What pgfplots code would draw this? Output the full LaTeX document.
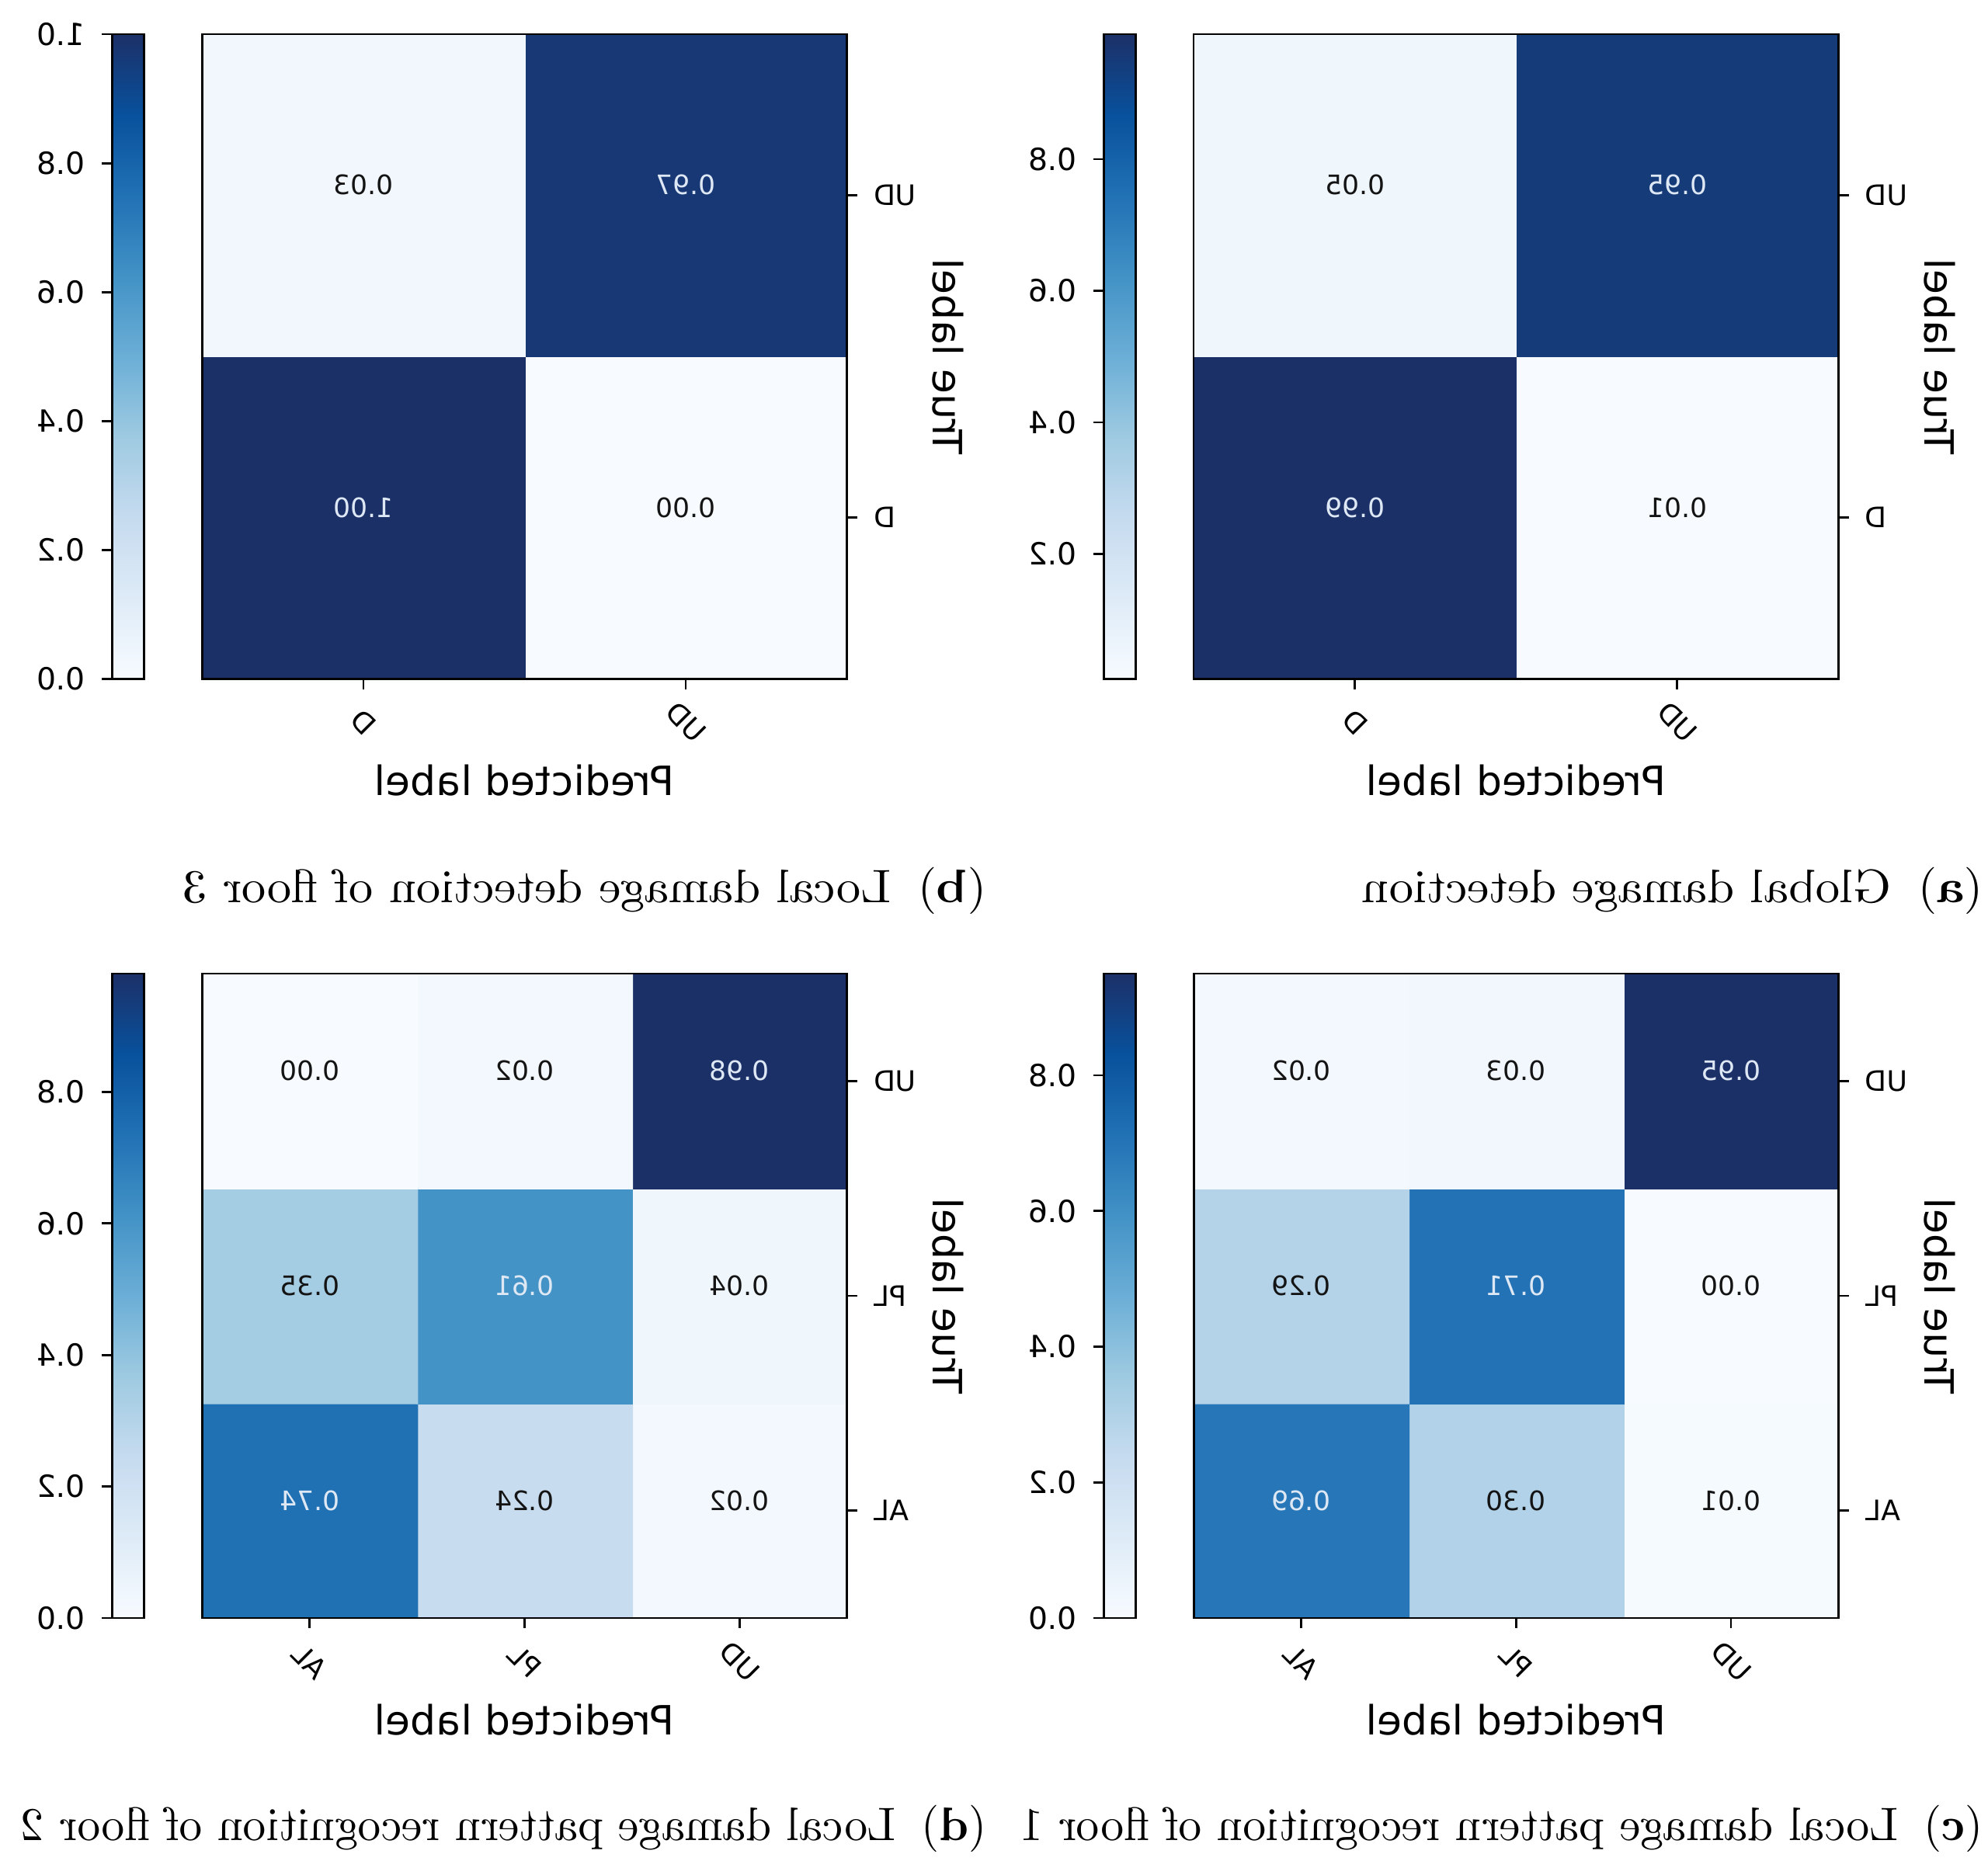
\documentclass[border=0pt]{standalone}
\usepackage{pgfplots}
\pgfplotsset{compat=1.18}
\usepackage{fontspec}
\newfontfamily\dvs{DejaVu Sans}
\newcommand\tickfont{\dvs\fontsize{6}{7}\selectfont}
\newcommand\cbfont{\dvs\fontsize{6.5}{7.5}\selectfont}
\newcommand\cellfont{\dvs\fontsize{5.7}{6.5}\selectfont}
\newcommand\labfont{\dvs\fontsize{8.6}{10}\selectfont}
\newcommand\capfont{\fontsize{10}{12}\selectfont}
\definecolor{lighttxt}{RGB}{222,232,244}
\definecolor{darktxt}{RGB}{20,20,20}
\pgfplotsset{
  colormap={blues}{rgb255=(247,251,255) rgb255=(222,235,247) rgb255=(198,219,239) rgb255=(158,202,225) rgb255=(107,174,214) rgb255=(66,146,198) rgb255=(33,113,181) rgb255=(8,81,156) rgb255=(28,48,104)},
  colorbar shift/.style={},
  cm/.style={
    scale only axis, width=137.3pt, height=137.3pt, anchor=north west,
    enlargelimits=false, axis on top,
    colormap name=blues,
    tick align=outside, xtick pos=left, ytick pos=left,
    major tick length=2.2pt,
    tick style={black, line width=0.45pt},
    axis line style={line width=0.45pt},
    tick label style={font=\tickfont},
    xticklabel style={yshift=-7pt, rotate=45, anchor=center},
    every axis x label/.style={at={(axis description cs:0.5,0)}, anchor=base, yshift=-24.8pt, font=\labfont},
    every axis y label/.style={at={(axis description cs:0,0.5)}, xshift=-18.4pt, rotate=90, anchor=base, font=\labfont},
    xlabel={Predicted label}, ylabel={True label},
    colorbar,
    colorbar style={
      at={(parent axis.north east)}, anchor=north west, xshift=12.4pt,
      width=6.75pt,
      tick align=outside, ytick pos=right, yticklabel pos=right,
      major tick length=2.2pt,
      tick style={black, line width=0.45pt},
      axis line style={line width=0.45pt, black},
      yticklabel style={font=\cbfont, /pgf/number format/.cd, fixed, fixed zerofill, precision=1, assume math mode=true},
    },
  },
  two/.style={xmin=-0.5, xmax=1.5, ymin=-0.5, ymax=1.5,
    xtick={0,1}, xticklabels={UD,D}, ytick={0,1}, yticklabels={D,UD}},
  three/.style={xmin=-0.5, xmax=2.5, ymin=-0.5, ymax=2.5,
    xtick={0,1,2}, xticklabels={UD,PL,AL}, ytick={0,1,2}, yticklabels={AL,PL,UD}},
  celltxt/.style={draw=none, mark=none, nodes near coords={\pgfplotspointmeta}, point meta=explicit symbolic,
     every node near coord/.append style={anchor=center, yshift=2.2pt, font=\cellfont, inner sep=0pt}},
}
\begin{document}
\begin{tikzpicture}
\path[use as bounding box] (0,0) rectangle (423.36pt,-399.33pt);
\begin{scope}[transform canvas={xshift=423.36pt, xscale=-1}]
% (a)
\begin{axis}[cm, two, at={(31.86pt,-7.29pt)}, point meta min=0.01, point meta max=0.99,
  colorbar style={ytick={0.2,0.4,0.6,0.8}}]
\addplot[matrix plot*, mesh/cols=2, point meta=explicit] table[meta=c] {
x y c
0 0 0.01
1 0 0.99
0 1 0.95
1 1 0.05
};
\addplot[celltxt, every node near coord/.append style={text=darktxt}] table[meta=t] {
x y t
0 0 0.01
1 1 0.05
};
\addplot[celltxt, every node near coord/.append style={text=lighttxt}] table[meta=t] {
x y t
1 0 0.99
0 1 0.95
};
\end{axis}
% (b)
\begin{axis}[cm, two, at={(243pt,-7.29pt)}, point meta min=0, point meta max=1,
  colorbar style={ytick={0,0.2,0.4,0.6,0.8,1}}]
\addplot[matrix plot*, mesh/cols=2, point meta=explicit] table[meta=c] {
x y c
0 0 0.00
1 0 1.00
0 1 0.97
1 1 0.03
};
\addplot[celltxt, every node near coord/.append style={text=darktxt}] table[meta=t] {
x y t
0 0 0.00
1 1 0.03
};
\addplot[celltxt, every node near coord/.append style={text=lighttxt}] table[meta=t] {
x y t
1 0 1.00
0 1 0.97
};
\end{axis}
% (c)
\begin{axis}[cm, three, at={(31.86pt,-207.36pt)}, point meta min=0, point meta max=0.95,
  colorbar style={ytick={0,0.2,0.4,0.6,0.8}}]
\addplot[matrix plot*, mesh/cols=3, point meta=explicit] table[meta=c] {
x y c
0 0 0.01
1 0 0.30
2 0 0.69
0 1 0.00
1 1 0.71
2 1 0.29
0 2 0.95
1 2 0.03
2 2 0.02
};
\addplot[celltxt, every node near coord/.append style={text=darktxt}] table[meta=t] {
x y t
0 0 0.01
1 0 0.30
0 1 0.00
2 1 0.29
1 2 0.03
2 2 0.02
};
\addplot[celltxt, every node near coord/.append style={text=lighttxt}] table[meta=t] {
x y t
2 0 0.69
1 1 0.71
0 2 0.95
};
\end{axis}
% (d)
\begin{axis}[cm, three, at={(243pt,-207.36pt)}, point meta min=0, point meta max=0.98,
  colorbar style={ytick={0,0.2,0.4,0.6,0.8}}]
\addplot[matrix plot*, mesh/cols=3, point meta=explicit] table[meta=c] {
x y c
0 0 0.02
1 0 0.24
2 0 0.74
0 1 0.04
1 1 0.61
2 1 0.35
0 2 0.98
1 2 0.02
2 2 0.00
};
\addplot[celltxt, every node near coord/.append style={text=darktxt}] table[meta=t] {
x y t
0 0 0.02
1 0 0.24
0 1 0.04
2 1 0.35
1 2 0.02
2 2 0.00
};
\addplot[celltxt, every node near coord/.append style={text=lighttxt}] table[meta=t] {
x y t
2 0 0.74
1 1 0.61
0 2 0.98
};
\end{axis}
\node[anchor=base west, inner sep=0pt, font=\capfont, xscale=1.035] at (0.8pt,-192.2pt) {(\textbf{a})\hspace{5.5pt}Global damage detection};
\node[anchor=base west, inner sep=0pt, font=\capfont, xscale=1.03] at (213.1pt,-192.2pt) {(\textbf{b})\hspace{5.5pt}Local damage detection of floor 3};
\node[anchor=base west, inner sep=0pt, font=\capfont, xscale=0.982] at (0.8pt,-392pt) {(\textbf{c})\hspace{5.5pt}Local damage pattern recognition of floor 1};
\node[anchor=base west, inner sep=0pt, font=\capfont, xscale=0.978] at (213.1pt,-392pt) {(\textbf{d})\hspace{5.5pt}Local damage pattern recognition of floor 2};
\end{scope}
\end{tikzpicture}
\end{document}
